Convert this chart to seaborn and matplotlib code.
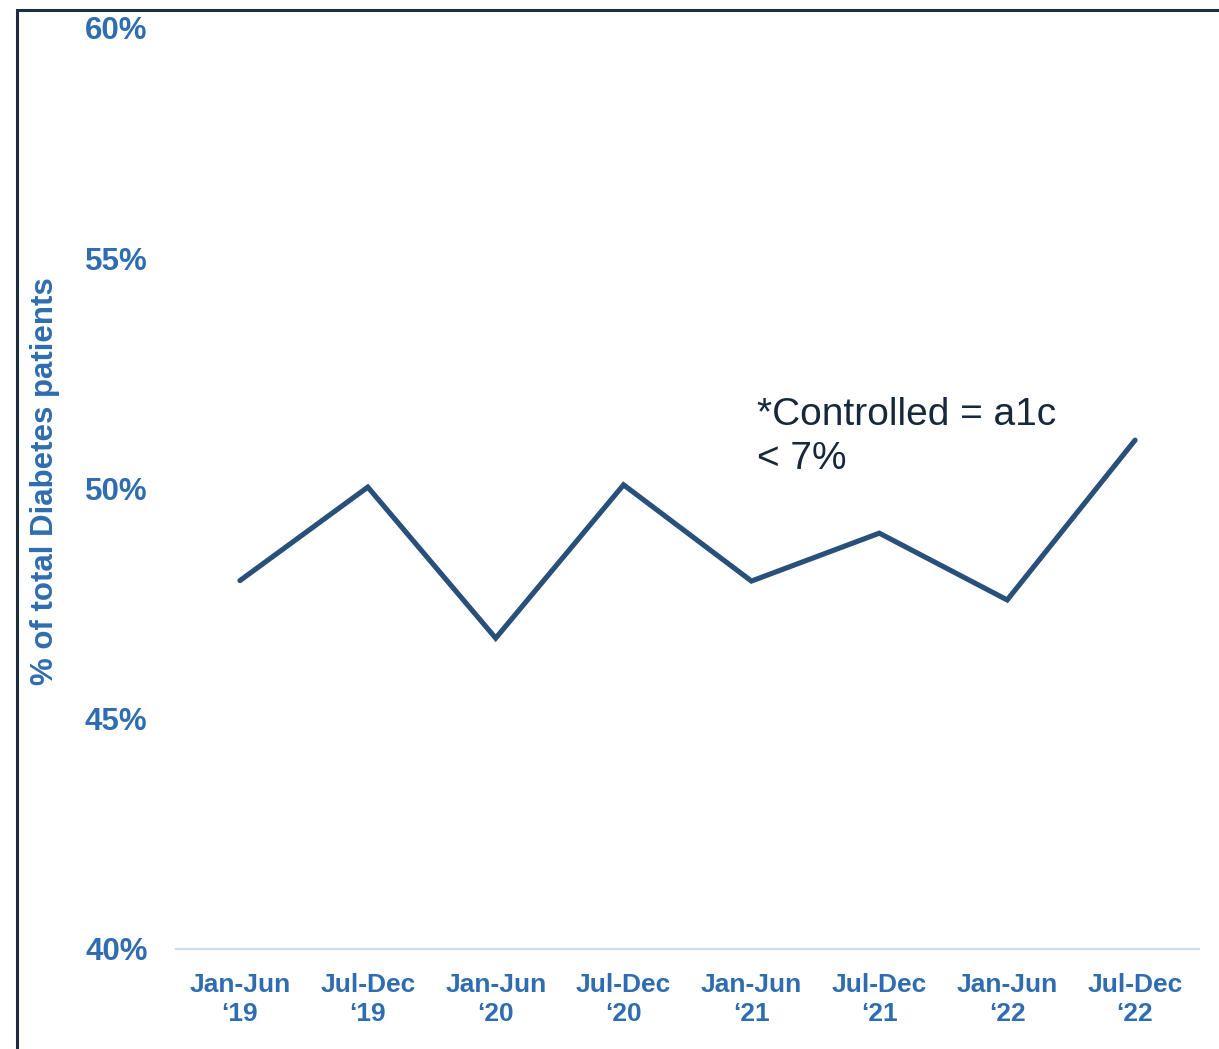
import matplotlib
matplotlib.use("Agg")
import matplotlib.pyplot as plt
import seaborn as sns
import pandas as pd
from matplotlib.patches import Rectangle

periods = ["Jan-Jun\n\u201819", "Jul-Dec\n\u201819", "Jan-Jun\n\u201820", "Jul-Dec\n\u201820",
           "Jan-Jun\n\u201821", "Jul-Dec\n\u201821", "Jan-Jun\n\u201822", "Jul-Dec\n\u201822"]
controlled_pct = [48.0, 50.03, 46.75, 50.08, 47.99, 49.03, 47.58, 51.05]
y_ticks = [40, 45, 50, 55, 60]
y_tick_labels = ["40%", "45%", "50%", "55%", "60%"]

sns.set_theme(style="white")
plt.rcParams['font.family'] = ['Liberation Sans', 'DejaVu Sans']

W, H = 1219, 1049
fig = plt.figure(figsize=(W / 100, H / 100), dpi=100)
ax = fig.add_axes([176 / W, 1 - 949 / H, (1199 - 176) / W, (949 - 28) / H])

df = pd.DataFrame({"period": periods, "pct": controlled_pct})
sns.lineplot(data=df, x="period", y="pct", sort=False, ax=ax, color="#28507A",
             linewidth=3.7, solid_capstyle="round", solid_joinstyle="miter")

ax.set_xlim(-0.5, len(periods) - 0.5)
ax.set_ylim(40, 60)
ax.set_yticks(y_ticks)
ax.set_yticklabels(y_tick_labels)
ax.set_xticks(range(len(periods)))
ax.set_xticklabels(periods, linespacing=1.28)

tick_color = "#2F6DB0"
ax.tick_params(axis="y", length=0, pad=20.5, labelsize=22.5, labelcolor=tick_color)
ax.tick_params(axis="x", length=0, pad=17, labelsize=19, labelcolor=tick_color)
for lbl in ax.get_xticklabels() + ax.get_yticklabels():
    lbl.set_fontweight("bold")

for s in ["top", "right", "left"]:
    ax.spines[s].set_visible(False)
ax.spines["bottom"].set_color("#C9DCF1")
ax.spines["bottom"].set_linewidth(1.5)

ax.set_xlabel("")
ax.set_ylabel("")
fig.text(45 / W, 1 - 481 / H, "% of total Diabetes patients", rotation=90,
         ha="center", va="center", fontsize=22.5, fontweight="bold", color=tick_color)

fig.text(757 / W, 1 - 397 / H, "*Controlled = a1c\n< 7%", ha="left", va="top",
         fontsize=28, color="#17283A", linespacing=1.3)

fig.patches.append(Rectangle((17 / W, -0.2), 1.5, 1.2 - 10 / H,
                             transform=fig.transFigure, fill=False,
                             edgecolor="#1E2D3D", linewidth=2.2, figure=fig))

fig.savefig("out.png", dpi=100, facecolor="white")
